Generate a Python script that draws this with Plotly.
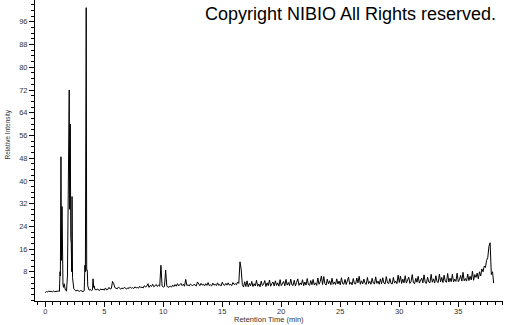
import plotly.graph_objects as go

# --- early part of the run, read point by point (retention time in min, relative intensity) ---
early_rt = [0.0, 0.1, 0.2, 0.3, 0.4, 0.5, 0.6, 0.7, 0.8, 0.9, 1.0, 1.1, 1.2,
            1.25, 1.28, 1.33, 1.37, 1.42, 1.46, 1.50, 1.55, 1.6, 1.7, 1.8,
            1.88, 1.92, 1.95, 2.03, 2.07, 2.12, 2.16, 2.20, 2.24, 2.27, 2.31, 2.35, 2.42,
            2.5, 2.6, 2.7, 2.8, 2.9, 3.0, 3.1, 3.2, 3.3,
            3.36, 3.40, 3.47, 3.51, 3.56, 3.60, 3.66, 3.72, 3.8, 3.9, 4.0,
            4.05, 4.1, 4.15, 4.2, 4.3, 4.4]
early_int = [0.6, 1.1, 0.9, 1.2, 1.0, 1.1, 0.9, 1.2, 1.0, 1.1, 1.0, 1.2, 1.1,
             8.0, 6.5, 48.5, 12.0, 31.0, 5.0, 3.5, 2.5, 3.8, 1.6, 1.2,
             6.5, 35.0, 29.0, 72.0, 30.0, 60.0, 20.0, 18.0, 8.0, 34.5, 6.0, 3.0, 2.0,
             1.6, 1.2, 1.5, 1.3, 1.1, 1.4, 1.2, 1.0, 1.3,
             10.3, 8.0, 101.0, 8.5, 8.6, 3.0, 2.0, 1.5, 1.8, 1.4, 1.6,
             5.5, 2.5, 3.0, 1.8, 1.6, 1.9]

# --- rest of the run, one reading every 0.1 min from 4.5 min ---
late_start = 4.5
late_step = 0.1
late_int = [
    1.7, 1.4, 2.0, 1.6, 1.9, 1.5, 2.3, 1.6, 1.8, 2.5,
    1.9, 2.1, 4.6, 3.8, 2.4, 2.2, 2.0, 2.6, 2.1, 1.9,
    2.3, 2.0, 2.5, 2.2, 1.9, 2.4, 2.1, 2.6, 2.2, 2.4,
    2.1, 2.7, 2.3, 2.5, 2.2, 2.9, 2.4, 2.6, 2.3, 3.1,
    2.6, 2.9, 3.8, 2.5, 3.2, 2.8, 3.6, 2.7, 3.0, 3.5,
    2.8, 3.3, 2.9, 10.3, 3.0, 2.6, 2.8, 8.6, 3.0, 2.5,
    2.7, 2.9, 2.6, 3.3, 2.8, 3.5, 2.9, 3.8, 3.0, 3.4,
    3.9, 3.1, 3.6, 2.9, 5.3, 3.2, 3.4, 3.0, 3.7, 3.3,
    3.1, 3.6, 3.2, 3.0, 4.4, 3.5, 3.1, 3.9, 3.3, 3.6,
    3.0, 3.8, 3.2, 4.2, 3.1, 3.4, 3.0, 4.0, 3.3, 3.6,
    3.1, 4.1, 3.2, 3.5, 3.0, 4.3, 3.4, 3.2, 3.9, 3.3,
    4.1, 3.3, 3.6, 3.1, 4.2, 3.5, 3.8, 3.4, 4.4, 3.9,
    11.5, 9.0, 3.5, 2.6, 4.5, 2.8, 4.8, 2.7, 3.9, 3.0,
    4.6, 2.8, 3.8, 3.0, 5.0, 2.9, 3.7, 2.7, 4.7, 3.1,
    3.6, 4.9, 2.8, 4.1, 3.1, 5.1, 2.9, 3.8, 4.4, 3.0,
    4.8, 3.2, 4.1, 2.9, 5.2, 3.1, 4.0, 4.6, 3.0, 5.3,
    3.3, 4.2, 3.1, 5.4, 3.4, 3.2, 5.0, 3.0, 4.3, 5.5,
    3.2, 4.1, 3.4, 5.2, 3.1, 4.4, 3.3, 5.6, 3.5, 3.2,
    4.9, 3.4, 5.3, 3.3, 4.1, 3.2, 5.8, 3.6, 4.5, 6.5,
    3.5, 6.3, 3.8, 3.3, 5.4, 3.7, 4.8, 3.4, 5.7, 3.6,
    4.4, 3.5, 5.5, 3.7, 4.7, 3.4, 5.9, 3.8, 3.6, 5.3,
    3.5, 4.6, 6.1, 3.6, 4.3, 3.4, 5.6, 3.8, 3.7, 5.8,
    4.1, 6.4, 3.6, 4.8, 3.7, 5.4, 3.9, 3.5, 6.0, 3.8,
    4.6, 3.6, 5.7, 4.0, 3.7, 6.2, 3.9, 4.7, 3.6, 5.5,
    3.8, 5.9, 4.0, 3.7, 6.3, 4.1, 3.8, 5.6, 3.9, 3.7,
    6.0, 4.0, 4.7, 3.8, 6.8, 4.2, 6.5, 3.9, 5.4, 4.1,
    6.6, 4.0, 4.8, 6.1, 3.9, 4.6, 7.0, 4.1, 3.8, 5.7,
    4.3, 6.4, 4.0, 5.0, 5.8, 4.1, 6.9, 4.2, 3.9, 6.1,
    4.4, 4.1, 7.1, 4.3, 5.5, 4.0, 6.6, 4.5, 4.2, 7.2,
    4.4, 6.0, 4.2, 6.8, 4.6, 4.3, 7.4, 4.4, 5.7, 4.5,
    7.1, 4.4, 5.4, 4.6, 7.5, 4.5, 5.2, 6.7, 4.7, 7.8,
    4.8, 5.6, 4.7, 7.2, 4.9, 6.4, 5.1, 8.2, 5.0, 7.0,
    6.0, 7.5, 5.5, 8.0, 6.5, 9.0, 8.0, 10.0, 9.5, 12.0,
    13.0, 17.0, 18.2, 7.0, 8.0, 4.0,
]
late_rt = [round(late_start + i * late_step, 2) for i in range(len(late_int))]

rt = early_rt + late_rt
intensity = early_int + late_int

y_tick_vals = [8, 16, 24, 32, 40, 48, 56, 64, 72, 80, 88, 96]
x_tick_vals = [0, 5, 10, 15, 20, 25, 30, 35]

fig = go.Figure()
fig.add_trace(go.Scatter(x=rt, y=intensity, mode="lines",
                         line=dict(color="black", width=1), hoverinfo="skip"))

tick_font = dict(family="Liberation Sans, Arial, sans-serif", size=7.5, color="#333333")

fig.update_layout(
    width=505, height=325,
    margin=dict(l=35, r=2, t=0, b=24, pad=0),
    paper_bgcolor="white", plot_bgcolor="white",
    showlegend=False,
    xaxis=dict(range=[-0.87, 38.79], tickvals=x_tick_vals,
               ticks="outside", ticklen=5, tickwidth=1, tickcolor="black",
               ticklabelstandoff=-2,
               minor=dict(dtick=0.625, tick0=0, ticks="outside", ticklen=3, tickcolor="black"),
               showline=True, linecolor="black", linewidth=1,
               showgrid=False, zeroline=False, tickfont=tick_font),
    yaxis=dict(range=[-2.3, 103.7], tickvals=y_tick_vals,
               ticks="outside", ticklen=5, tickwidth=1, tickcolor="black",
               minor=dict(dtick=2, tick0=0, ticks="outside", ticklen=3, tickcolor="black"),
               showline=True, linecolor="black", linewidth=1,
               showgrid=False, zeroline=False, tickfont=tick_font),
    annotations=[
        dict(text="Relative Intensity", xref="paper", yref="paper",
             x=-0.0588, y=0.555, textangle=-90, showarrow=False,
             xanchor="center", yanchor="middle",
             font=dict(family="Liberation Sans, Arial, sans-serif", size=6.5, color="#333333")),
        dict(text="Retention Time (min)", xref="paper", yref="paper",
             x=0.5, y=-0.0797, showarrow=False, xanchor="center", yanchor="bottom",
             borderpad=0,
             font=dict(family="Liberation Sans, Arial, sans-serif", size=7.5, color="#333333")),
        dict(text="Copyright NIBIO All Rights reserved.", xref="paper", yref="paper",
             x=0.989, y=0.955, showarrow=False, xanchor="right", yanchor="middle",
             font=dict(family="Liberation Sans, Arial, sans-serif", size=18, color="black")),
    ],
)

fig.write_html("out.html", config={"displayModeBar": False})
